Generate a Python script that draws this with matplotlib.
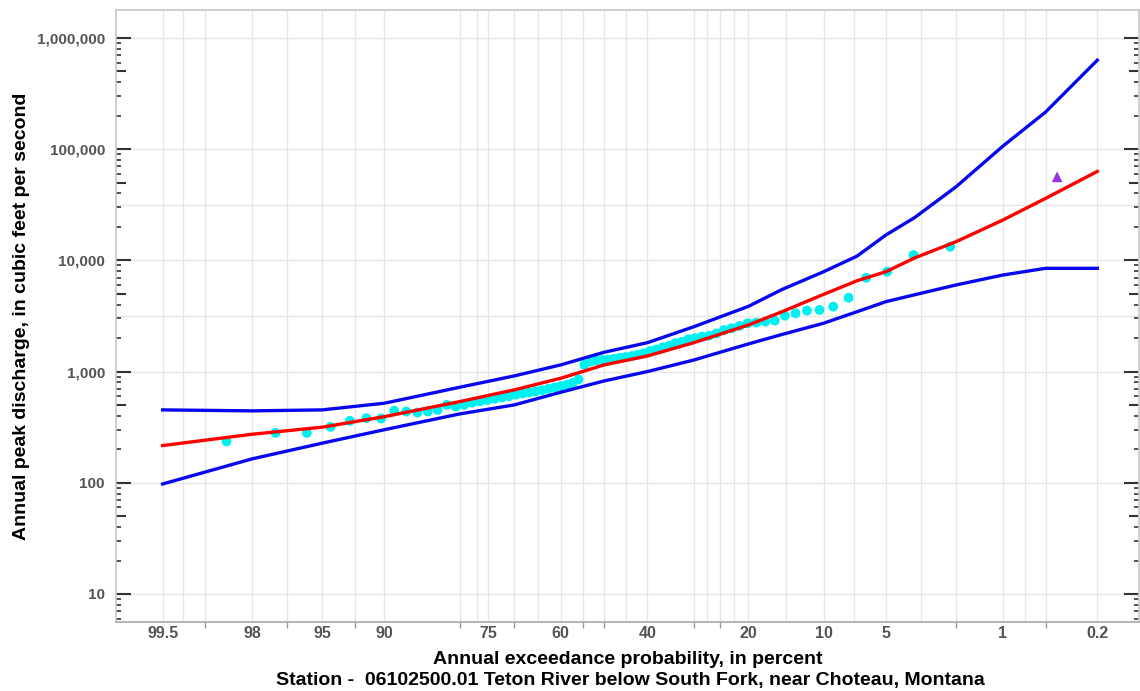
import math
import numpy as np
import matplotlib
matplotlib.use("Agg")
import matplotlib.pyplot as plt
from matplotlib.ticker import FixedLocator, FuncFormatter, NullFormatter

# ---------------- data ----------------
curve_aep = [99.5, 98, 95, 90, 80, 70, 60, 50, 40, 30, 20, 15, 10, 7, 5, 3.5, 2, 1, 0.5, 0.2]
fitted_q = [216, 273, 316, 393, 537, 684, 870, 1147, 1381, 1818, 2620, 3440, 4943, 6550,
            7900, 10500, 14700, 23000, 36000, 63000]
upper_q = [452, 443, 452, 519, 723, 913, 1147, 1490, 1818, 2530, 3850, 5450, 7900, 10900,
           16900, 24200, 45800, 106000, 215000, 630000]
lower_q = [97.5, 164, 227, 300, 416, 501, 651, 823, 1000, 1270, 1770, 2150, 2720, 3450,
           4250, 4900, 6000, 7370, 8470, 8470]

obs_aep = [2.17, 3.55, 4.93, 6.31, 7.68, 9.06, 10.44, 11.82, 13.20, 14.58,
           15.96, 17.33, 18.71, 20.09, 21.47, 22.85, 24.23, 25.61, 26.99, 28.37,
           29.75, 31.12, 32.50, 33.88, 35.26, 36.64, 38.02, 39.40, 40.77, 42.15,
           43.53, 44.91, 46.29, 47.67, 49.05, 50.43, 51.81, 53.19, 54.57, 55.95,
           57.23, 58.61, 59.99, 61.37, 62.75, 64.13, 65.51, 66.89, 68.27, 69.65,
           71.02, 72.40, 73.78, 75.16, 76.54, 77.92, 79.30, 80.68, 82.06, 83.44,
           84.82, 86.20, 87.58, 88.96, 90.34, 91.72, 93.10, 94.48, 95.86, 97.24,
           98.62]
obs_q = [13250, 11150, 7900, 6970, 4610, 3830, 3580, 3530, 3340, 3180,
         2870, 2810, 2755, 2715, 2570, 2450, 2360, 2200, 2100, 2060,
         2000, 1950, 1850, 1800, 1700, 1650, 1580, 1530, 1460, 1420,
         1380, 1350, 1330, 1300, 1280, 1270, 1250, 1230, 1150, 850,
         790, 760, 740, 720, 700, 680, 665, 650, 635, 620,
         600, 585, 570, 555, 540, 525, 501, 484, 501, 452,
         437, 428, 437, 444, 378, 381, 360, 318, 281, 281,
         235]

hist_aep = [0.41]
hist_q = [56300]

x_tick_values = [99.5, 98, 95, 90, 75, 60, 40, 20, 10, 5, 1, 0.2]
x_tick_labels = ["99.5", "98", "95", "90", "75", "60", "40", "20", "10", "5", "1", "0.2"]
x_grid_extra = [99.3, 99, 96.8, 92.7, 80, 77, 70, 65, 55, 50, 45, 30, 27.4, 25,
                22.5, 14.4, 7.2, 3.2, 2, 0.7, 0.5]
x_minor_marks = [99, 96.8, 92.7, 80, 70, 55, 50, 30, 25, 2, 0.5]
y_major = [10, 100, 1000, 10000, 100000, 1000000]
y_grid_half = [3162, 31623]

# ---------------- normal probability scale ----------------
_a = [-3.969683028665376e+01, 2.209460984245205e+02, -2.759285104469687e+02,
      1.383577518672690e+02, -3.066479806614716e+01, 2.506628277459239e+00]
_b = [-5.447609879822406e+01, 1.615858368580409e+02, -1.556989798598866e+02,
      6.680131188771972e+01, -1.328068155288572e+01]
_c = [-7.784894002430293e-03, -3.223964580411365e-01, -2.400758277161838e+00,
      -2.549671035506888e+00, 4.374664141464968e+00, 2.938163982698783e+00]
_d = [7.784695709041462e-03, 3.224671290700398e-01, 2.445134137142996e+00,
      3.754408661907416e+00]


def _ppf(p):
    p = np.clip(np.asarray(p, dtype=float), 1e-12, 1 - 1e-12)
    out = np.empty_like(p)
    plow = 0.02425
    lo = p < plow
    hi = p > 1 - plow
    mid = ~(lo | hi)
    q = np.sqrt(-2 * np.log(p[lo]))
    out[lo] = (((((_c[0]*q+_c[1])*q+_c[2])*q+_c[3])*q+_c[4])*q+_c[5]) / \
              ((((_d[0]*q+_d[1])*q+_d[2])*q+_d[3])*q+1)
    q = np.sqrt(-2 * np.log(1 - p[hi]))
    out[hi] = -(((((_c[0]*q+_c[1])*q+_c[2])*q+_c[3])*q+_c[4])*q+_c[5]) / \
              ((((_d[0]*q+_d[1])*q+_d[2])*q+_d[3])*q+1)
    q = p[mid] - 0.5
    r = q * q
    out[mid] = (((((_a[0]*r+_a[1])*r+_a[2])*r+_a[3])*r+_a[4])*r+_a[5])*q / \
               (((((_b[0]*r+_b[1])*r+_b[2])*r+_b[3])*r+_b[4])*r+1)
    return out


_verf = np.vectorize(math.erf)


def fwd(pct):
    return _ppf(np.asarray(pct, dtype=float) / 100.0)


def inv(z):
    z = np.asarray(z, dtype=float)
    return 100.0 * 0.5 * (1 + _verf(z / math.sqrt(2)))


# ---------------- figure ----------------
plt.rcParams["font.family"] = ["Liberation Sans", "DejaVu Sans"]
fig = plt.figure(figsize=(11.4, 6.91), dpi=100)
ax = fig.add_axes([116/1140, 1-622/691, (1139-116)/1140, (622-10)/691])

ax.set_xscale("function", functions=(fwd, inv))
ax.set_yscale("log")
ax.set_xlim(99.78, 0.09)
ax.set_ylim(5.6, 1.78e6)

grid_kw = dict(color="#e6e6e6", lw=1.0, zorder=0)
for v in x_tick_values + x_grid_extra:
    ax.axvline(v, **grid_kw)
for v in y_major + y_grid_half:
    ax.axhline(v, **grid_kw)

ax.scatter(obs_aep, obs_q, s=50, color="#00f0f0", edgecolors="none", zorder=2)
ax.plot(curve_aep, upper_q, color="#0808f0", lw=2.4, zorder=3)
ax.plot(curve_aep, lower_q, color="#0808f0", lw=2.4, zorder=3)
ax.plot(curve_aep, fitted_q, color="#ff0000", lw=2.4, zorder=4)
ax.scatter(hist_aep, hist_q, s=60, marker="^", color="#9933dd", edgecolors="none", zorder=5)

# x ticks
ax.xaxis.set_major_locator(FixedLocator(x_tick_values))
ax.set_xticklabels(x_tick_labels)
ax.xaxis.set_minor_locator(FixedLocator(x_minor_marks))
ax.xaxis.set_minor_formatter(NullFormatter())
ax.tick_params(axis="x", which="major", length=0, pad=3, labelsize=11.5,
               labelcolor="#555555")
ax.tick_params(axis="x", which="minor", length=4, width=1, color="#999999")
for lab in ax.get_xticklabels():
    lab.set_fontweight("bold")

# y ticks
ax.yaxis.set_major_locator(FixedLocator(y_major))
ax.yaxis.set_major_formatter(FuncFormatter(lambda v, p: f"{int(round(v)):,}"))
minor_y = [m * 10**e for e in range(0, 7) for m in (2, 3, 4, 6, 7, 8, 9)]
ax.yaxis.set_minor_locator(FixedLocator(minor_y))
ax.yaxis.set_minor_formatter(NullFormatter())
ax.tick_params(axis="y", which="major", direction="in", length=11, width=1.5,
               color="#333333", left=True, right=True, labelsize=11,
               labelcolor="#555555", pad=8)
ax.tick_params(axis="y", which="minor", direction="in", length=3.5, width=1.2,
               color="#333333", left=True, right=True)
for lab in ax.get_yticklabels():
    lab.set_fontweight("bold")

five_ticks = [5 * 10**e for e in range(0, 6)]
for side in ("left", "right"):
    sec = ax.secondary_yaxis(side)
    sec.set_yscale("log")
    sec.yaxis.set_major_locator(FixedLocator(five_ticks))
    sec.yaxis.set_minor_locator(FixedLocator([]))
    sec.yaxis.set_major_formatter(NullFormatter())
    sec.tick_params(axis="y", which="major", direction="in", length=7, width=1.5,
                    color="#333333")
    for s in sec.spines.values():
        s.set_visible(False)

for s in ax.spines.values():
    s.set_color("#c8c8c8")
    s.set_linewidth(1.2)
ax.spines["bottom"].set_color("#a8a8a8")

fig.text(22/1140, 1-316/691, "Annual peak discharge, in cubic feet per second",
         rotation=90, ha="center", va="center", fontsize=14, fontweight="bold")
fig.text(628/1140, 1-659/691, "Annual exceedance probability, in percent",
         ha="center", va="center", fontsize=14, fontweight="bold")
fig.text(630/1140, 1-680/691,
         "Station -  06102500.01 Teton River below South Fork, near Choteau, Montana",
         ha="center", va="center", fontsize=14, fontweight="bold")

fig.savefig("out.png", dpi=100)
